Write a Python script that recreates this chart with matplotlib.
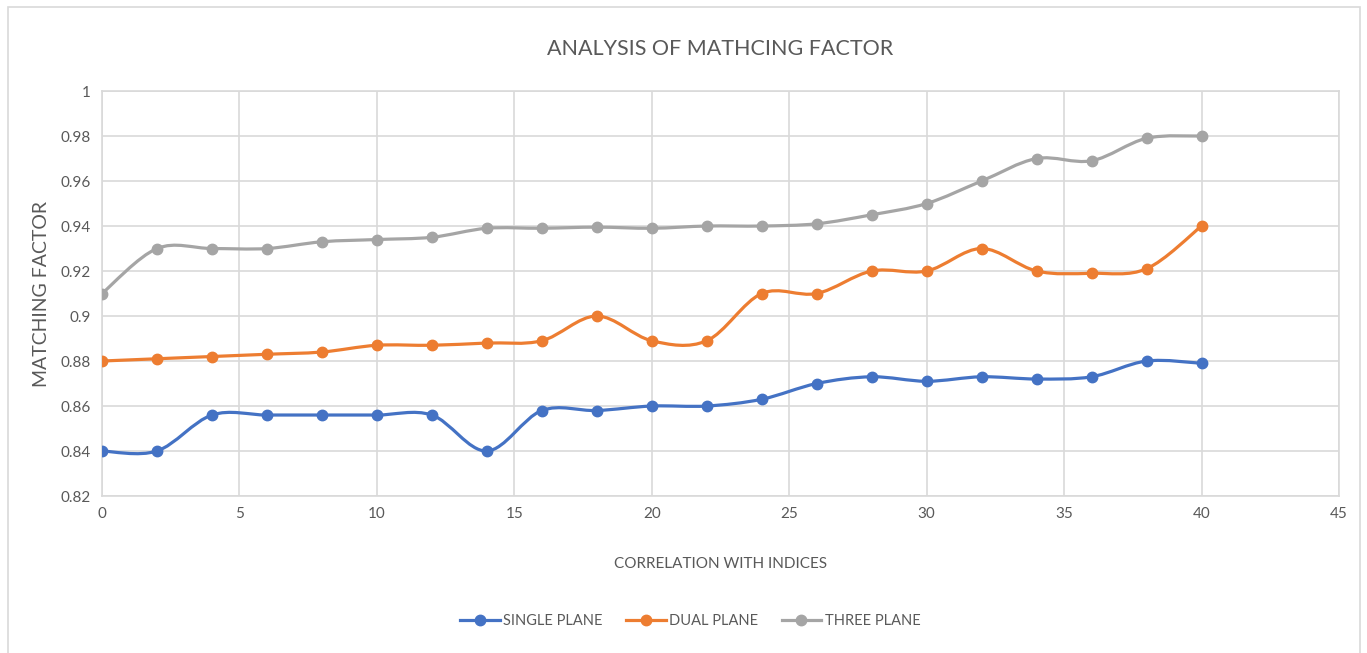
import matplotlib.pyplot as plt
import numpy as np
from matplotlib.path import Path
from matplotlib.patches import PathPatch, Rectangle
from matplotlib.lines import Line2D

plt.rcParams['font.family'] = ['Lato', 'DejaVu Sans']

# data
x_vals = [0, 2, 4, 6, 8, 10, 12, 14, 16, 18, 20, 22, 24, 26, 28, 30, 32, 34, 36, 38, 40]
single_plane = [0.840, 0.840, 0.856, 0.856, 0.856, 0.856, 0.856, 0.840, 0.858, 0.858, 0.860,
                0.860, 0.863, 0.870, 0.873, 0.871, 0.873, 0.872, 0.873, 0.880, 0.879]
dual_plane = [0.880, 0.881, 0.882, 0.883, 0.884, 0.887, 0.887, 0.888, 0.889, 0.900, 0.889,
              0.889, 0.910, 0.910, 0.920, 0.920, 0.930, 0.920, 0.919, 0.921, 0.940]
three_plane = [0.910, 0.930, 0.930, 0.930, 0.933, 0.934, 0.935, 0.939, 0.939, 0.9395, 0.939,
               0.940, 0.940, 0.941, 0.945, 0.950, 0.960, 0.970, 0.969, 0.979, 0.980]
series_names = ['SINGLE PLANE', 'DUAL PLANE', 'THREE PLANE']
colors = ['#4472C4', '#ED7D31', '#A5A5A5']

fig = plt.figure(figsize=(13.67, 6.53), dpi=100)
ax = fig.add_axes([0.0746, 0.2404, 0.9049, 0.6202])

# outer chart border
fig.patches.append(Rectangle((0.006, -0.01), 0.989, 1.0, transform=fig.transFigure,
                             fill=False, edgecolor='#d9d9d9', linewidth=1.2))


def smooth_path(xs, ys):
    # excel-style smoothed line: cubic bezier segments with catmull-rom tangents
    xs = np.asarray(xs, float)
    ys = np.asarray(ys, float)
    verts = [(xs[0], ys[0])]
    codes = [Path.MOVETO]
    n = len(xs)
    for i in range(n - 1):
        p0 = (xs[max(i - 1, 0)], ys[max(i - 1, 0)])
        p1 = (xs[i], ys[i])
        p2 = (xs[i + 1], ys[i + 1])
        p3 = (xs[min(i + 2, n - 1)], ys[min(i + 2, n - 1)])
        c1 = (p1[0] + (p2[0] - p0[0]) / 6, p1[1] + (p2[1] - p0[1]) / 6)
        c2 = (p2[0] - (p3[0] - p1[0]) / 6, p2[1] - (p3[1] - p1[1]) / 6)
        verts += [c1, c2, p2]
        codes += [Path.CURVE4] * 3
    return Path(verts, codes)


handles = []
for ys, name, col in zip([single_plane, dual_plane, three_plane], series_names, colors):
    ax.add_patch(PathPatch(smooth_path(x_vals, ys), facecolor='none', edgecolor=col,
                           linewidth=2.3, zorder=3, capstyle='round'))
    ax.plot(x_vals, ys, linestyle='none', marker='o', markersize=7.5, color=col, zorder=4)
    handles.append(Line2D([], [], color=col, linewidth=2.3, marker='o', markersize=7.5, label=name))

ax.set_xlim(0, 45)
ax.set_ylim(0.82, 1.0)
ax.set_xticks(np.arange(0, 46, 5))
ax.set_yticks(np.arange(0.82, 1.001, 0.02))
ax.set_yticklabels(['0.82', '0.84', '0.86', '0.88', '0.9', '0.92', '0.94', '0.96', '0.98', '1'])
ax.grid(True, color='#d9d9d9', linewidth=1.2)
ax.set_axisbelow(True)
for sp in ax.spines.values():
    sp.set_color('#d9d9d9')
    sp.set_linewidth(1.2)
ax.tick_params(length=0, labelsize=11, colors='#595959', pad=8)

ax.set_title('ANALYSIS OF MATHCING FACTOR', fontsize=15.5, color='#595959', pad=26)
ax.set_xlabel('CORRELATION WITH INDICES', fontsize=11, color='#595959', labelpad=26)
ax.set_ylabel('MATCHING FACTOR', fontsize=14, color='#595959', labelpad=8)

fig.legend(handles=handles, loc='center', bbox_to_anchor=(0.505, 0.049), ncol=3,
           frameon=False, fontsize=10.5, labelcolor='#595959', handlelength=2.7,
           columnspacing=1.6, handletextpad=0.25)

fig.savefig('out.png', dpi=100)
